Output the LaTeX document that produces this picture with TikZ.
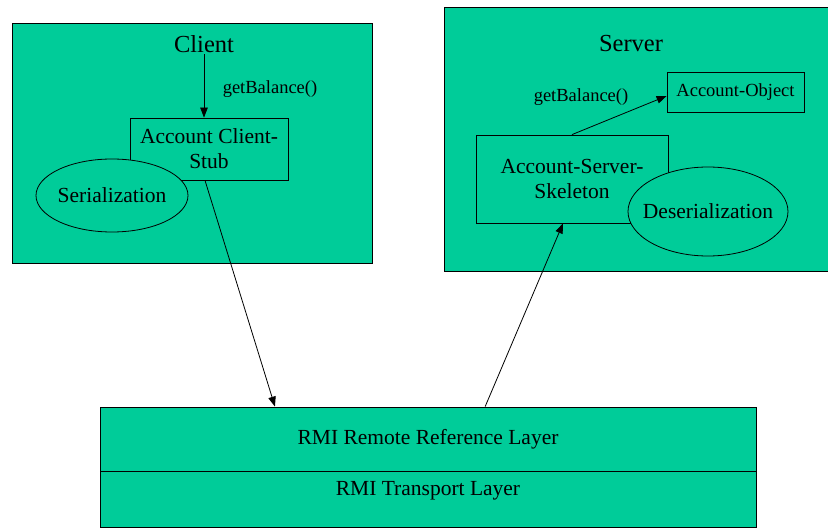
\documentclass[tikz,border=0pt]{standalone}
\usepackage{fontspec}
\setmainfont{Liberation Serif}
\usepackage{tikz}
\usetikzlibrary{arrows.meta,calc,shapes.geometric}
\definecolor{RmiGreen}{RGB}{0,204,153}

\begin{document}
\begin{tikzpicture}[
  x=1pt, y=-1pt,
  >={Triangle[length=10pt,width=7.5pt]},
  line width=0.8pt,
  box/.style={draw, fill=RmiGreen, inner sep=0pt, align=center,
    font=\fontsize{21.5}{25}\selectfont},
  blob/.style={draw, fill=RmiGreen, ellipse, inner sep=0pt},
  blobtext/.style={font=\fontsize{21.5}{25}\selectfont},
  title/.style={font=\fontsize{24.5}{27}\selectfont, inner sep=1pt},
  call/.style={font=\fontsize{18.5}{21}\selectfont, inner sep=1pt}
]
  \useasboundingbox (0,0) rectangle (828,529);

  % client side
  \node[box, minimum width=360, minimum height=240] (client) at (192,143) {};
  \node[title] (clientname) at (204,44) {Client};
  \node[box, minimum width=158, minimum height=62] (stub) at (209,149)
    {Account Client-\\Stub};
  \node[blob, minimum width=152, minimum height=73,
    label={[blobtext]center:Serialization}] (ser) at (112,195.5) {};
  \node[call] (clientcall) at (270,89) {getBalance()};
  \draw[->] (clientname.south) -- (stub.north -| clientname);

  % server side
  \node[box, minimum width=384, minimum height=264] (server) at (636,139.5) {};
  \node[title] (servername) at (631,44) {Server};
  \node[box, minimum width=137, minimum height=40, font=\fontsize{18.5}{21}\selectfont]
    (obj) at (735.5,92) {Account-Object};
  \node[box, minimum width=192, minimum height=88] (skel) at (572,179)
    {Account-Server-\\Skeleton};
  \node[blob, minimum width=160, minimum height=89,
    label={[blobtext]center:Deserialization}] (deser) at (708,211.5) {};
  \node[call] (servercall) at (581,97) {getBalance()};
  \draw[->] (skel.north) -- ($(obj.west)+(0,4)$);

  % the two RMI layers
  \node[box, minimum width=656, minimum height=64] (ref) at (428,439)
    {RMI Remote Reference Layer};
  \node[box, minimum width=656, minimum height=56,
    label={[yshift=8pt, font=\fontsize{21.5}{25}\selectfont]center:RMI Transport Layer}]
    (trans) at (428,499) {};

  % calls going through the layers
  \coordinate (down) at ($(ref.north west)!0.267!(ref.north east)$);
  \coordinate (up) at ($(ref.north west)!0.587!(ref.north east)$);
  \draw[->] ($(stub.south)+(-4,0)$) -- (down);
  \draw[->] (up) -- ($(skel.south)+(-9,0)$);
\end{tikzpicture}
\end{document}
